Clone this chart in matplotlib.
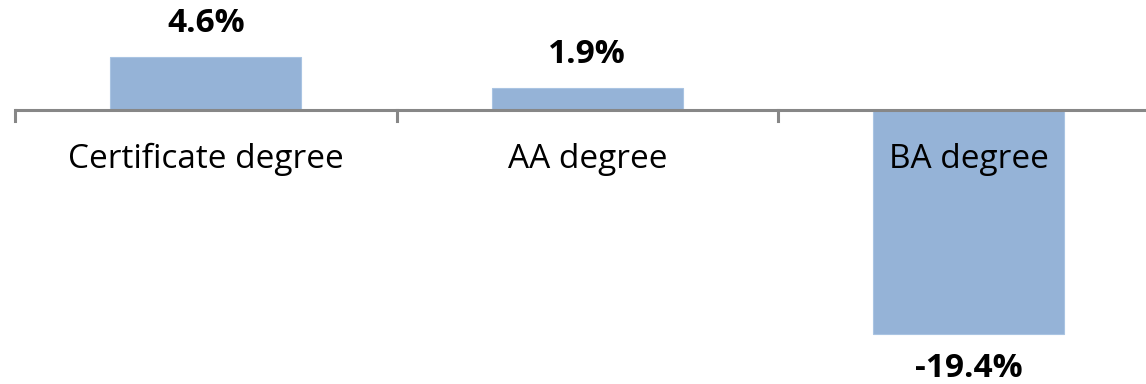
import matplotlib.pyplot as plt

# 数据：各学历类别的变化百分比
categories = ["Certificate degree", "AA degree", "BA degree"]
values = [4.6, 1.9, -19.4]
value_labels = ["4.6%", "1.9%", "-19.4%"]

bar_color = "#95B3D7"
axis_color = "#878787"

plt.rcParams['font.family'] = ['Open Sans', 'DejaVu Sans']

fig = plt.figure(figsize=(11.46, 3.84), dpi=100)
ax = fig.add_axes([15 / 1146, 0, 1144.5 / 1146, 1])

x = list(range(len(categories)))
ax.bar(x, values, width=0.5, color=bar_color, edgecolor="#A9C4E2", linewidth=0.8, zorder=2)

ax.set_xlim(-0.5, len(categories) - 0.5)
ax.set_ylim(-23.72, 9.52)

# 零线与分隔刻度
ax.axhline(0, color=axis_color, linewidth=2.2, zorder=3)
for b in [i - 0.5 for i in range(len(categories) + 1)]:
    ax.plot([b, b], [0, -0.95], color=axis_color, linewidth=2.2, zorder=3, clip_on=False)

# 类别标签
for i, c in enumerate(categories):
    ax.text(i, -4.3, c, ha='center', va='center', fontsize=24, zorder=4)

# 数值标签
for i, (v, lab) in enumerate(zip(values, value_labels)):
    off = 24 if v >= 0 else -24.5
    ax.annotate(lab, (i, v), xytext=(0, off), textcoords='offset points',
                ha='center', va='center', fontsize=24, fontweight='bold')

ax.axis('off')
fig.savefig("out.png", dpi=100)
